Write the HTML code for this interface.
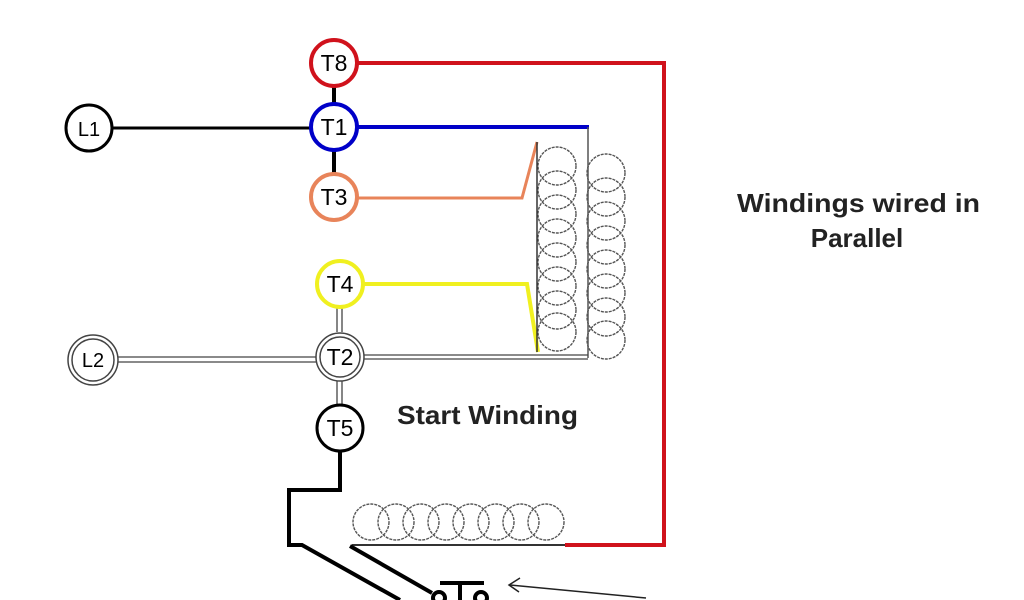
<!DOCTYPE html>
<html><head><style>
html,body{margin:0;padding:0;background:#fff;width:1024px;height:600px;overflow:hidden}
text{font-family:"Liberation Sans",Arial,sans-serif}
</style></head><body>
<svg width="1024" height="600" viewBox="0 0 1024 600" xmlns="http://www.w3.org/2000/svg">
<polyline points="358,63 664,63 664,545 565,545" fill="none" stroke="#d0121c" stroke-width="4"/>
<line x1="334" y1="86" x2="334" y2="103" stroke="#000" stroke-width="4"/>
<line x1="334" y1="151" x2="334" y2="173" stroke="#000" stroke-width="4"/>
<line x1="112" y1="128" x2="310" y2="128" stroke="#000" stroke-width="3"/>
<line x1="358" y1="127" x2="589" y2="127" stroke="#0000c8" stroke-width="4"/>
<line x1="588" y1="127" x2="588" y2="358" stroke="#555" stroke-width="1.5"/>
<polyline points="358,198 522,198 537,142" fill="none" stroke="#e8845a" stroke-width="3"/>
<polyline points="364,284 527,284 538,352" fill="none" stroke="#f0f020" stroke-width="4"/>
<g stroke="#444" stroke-width="1.3" fill="none">
<line x1="118" y1="357" x2="316" y2="357"/><line x1="118" y1="362" x2="316" y2="362"/>
<line x1="364" y1="355" x2="588" y2="355"/><line x1="364" y1="359" x2="588" y2="359"/>
<line x1="337" y1="308" x2="337" y2="332"/><line x1="342" y1="308" x2="342" y2="332"/>
<line x1="337" y1="380" x2="337" y2="404"/><line x1="342" y1="380" x2="342" y2="404"/>
</g>
<g fill="none" stroke="#555" stroke-width="1.4" stroke-dasharray="3,1">
<circle cx="557" cy="166" r="19"/><circle cx="557" cy="190" r="19"/><circle cx="557" cy="214" r="19"/><circle cx="557" cy="238" r="19"/>
<circle cx="557" cy="262" r="19"/><circle cx="557" cy="286" r="19"/><circle cx="557" cy="310" r="19"/><circle cx="557" cy="332" r="19"/>
<circle cx="606" cy="173" r="19"/><circle cx="606" cy="197" r="19"/><circle cx="606" cy="221" r="19"/><circle cx="606" cy="245" r="19"/>
<circle cx="606" cy="269" r="19"/><circle cx="606" cy="293" r="19"/><circle cx="606" cy="317" r="19"/><circle cx="606" cy="340" r="19"/>
<circle cx="371" cy="522" r="18"/><circle cx="396" cy="522" r="18"/><circle cx="421" cy="522" r="18"/><circle cx="446" cy="522" r="18"/>
<circle cx="471" cy="522" r="18"/><circle cx="496" cy="522" r="18"/><circle cx="521" cy="522" r="18"/><circle cx="546" cy="522" r="18"/>
</g>
<line x1="537" y1="142" x2="537" y2="352" stroke="#333" stroke-width="1.5"/>
<line x1="352" y1="545" x2="565" y2="545" stroke="#333" stroke-width="2"/>
<polyline points="340,452 340,490 289,490 289,545 302,545 400,600" fill="none" stroke="#000" stroke-width="4"/>
<line x1="350" y1="546" x2="432" y2="593" stroke="#000" stroke-width="4"/>
<line x1="440" y1="583" x2="484" y2="583" stroke="#000" stroke-width="4"/>
<line x1="460" y1="583" x2="460" y2="600" stroke="#000" stroke-width="4"/>
<circle cx="439" cy="598" r="6" fill="none" stroke="#000" stroke-width="4"/>
<circle cx="481" cy="598" r="6" fill="none" stroke="#000" stroke-width="4"/>
<polyline points="646,598 510,585" fill="none" stroke="#222" stroke-width="1.5"/>
<polyline points="520,578 509,585 519,592" fill="none" stroke="#222" stroke-width="1.5"/>
<g font-size="23" text-anchor="middle" fill="#000">
<circle cx="334" cy="63" r="23" fill="#fff" stroke="#d0121c" stroke-width="4"/><text x="334" y="71">T8</text>
<circle cx="334" cy="127" r="23" fill="#fff" stroke="#0000c8" stroke-width="4"/><text x="334" y="135">T1</text>
<circle cx="334" cy="197" r="23" fill="#fff" stroke="#e8845a" stroke-width="4"/><text x="334" y="205">T3</text>
<circle cx="340" cy="284" r="23" fill="#fff" stroke="#f0f020" stroke-width="4"/><text x="340" y="292">T4</text>
<circle cx="340" cy="357" r="24" fill="#fff" stroke="#444" stroke-width="1.5"/><circle cx="340" cy="357" r="20" fill="#fff" stroke="#444" stroke-width="1.5"/><text x="340" y="365">T2</text>
<circle cx="340" cy="428" r="23" fill="#fff" stroke="#000" stroke-width="3"/><text x="340" y="436">T5</text>
<circle cx="89" cy="128" r="23" fill="#fff" stroke="#000" stroke-width="3"/><text x="89" y="136" font-size="20">L1</text>
<circle cx="93" cy="360" r="25" fill="#fff" stroke="#444" stroke-width="1.5"/><circle cx="93" cy="360" r="21" fill="#fff" stroke="#444" stroke-width="1.5"/><text x="93" y="367" font-size="20">L2</text>
</g>
<g font-size="26" fill="#222" font-weight="bold">
<text x="737" y="212" textLength="243" lengthAdjust="spacingAndGlyphs">Windings wired in</text>
<text x="857" y="247" text-anchor="middle">Parallel</text>
<text x="397" y="424" textLength="181" lengthAdjust="spacingAndGlyphs">Start Winding</text>
</g>
</svg>
</body></html>
